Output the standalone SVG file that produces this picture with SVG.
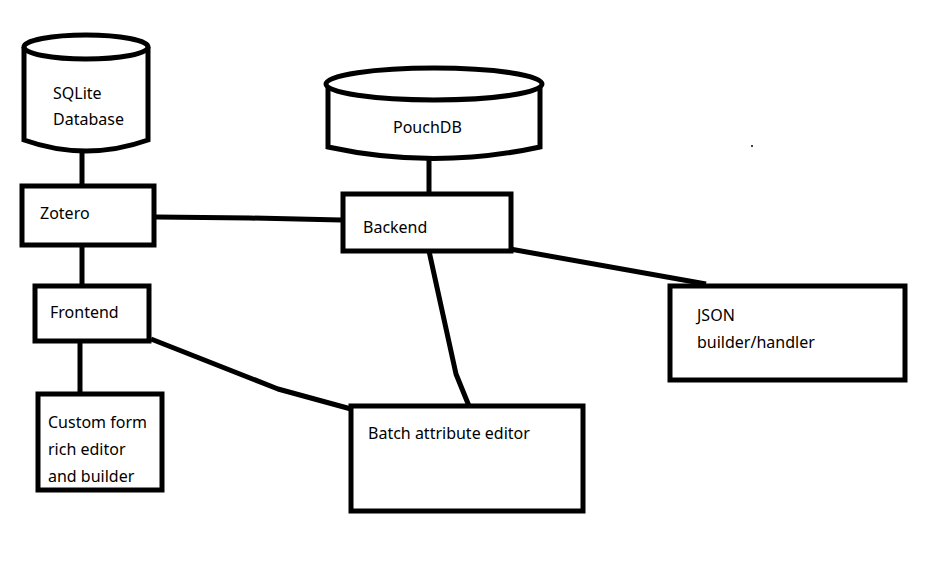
<svg xmlns="http://www.w3.org/2000/svg" width="933" height="576" viewBox="0 0 933 576">
<style>
.s{fill:#fff;stroke:#000;stroke-width:5}
.c{fill:none;stroke:#000;stroke-width:5;stroke-linejoin:round}
text{font-family:"Noto Sans","Open Sans","DejaVu Sans",sans-serif;font-size:16px;fill:#000}
</style>
<rect width="933" height="576" fill="#fff"/>
<g id="connectors">
<line class="c" x1="82" y1="150" x2="82" y2="186"/>
<polyline class="c" points="156,217 250,218 341,220"/>
<line class="c" x1="82" y1="245" x2="82" y2="286"/>
<line class="c" x1="80" y1="341" x2="80" y2="394"/>
<polyline class="c" points="151,339 278,389 351,409"/>
<line class="c" x1="429" y1="155" x2="429" y2="194"/>
<polyline class="c" points="429,251 456,374 469,406"/>
<line class="c" x1="510" y1="249" x2="706" y2="284"/>
</g>
<g id="sqlite">
<path class="s" d="M24,47 V140 Q86,162 148,140 V47"/>
<ellipse class="s" cx="86" cy="47" rx="62" ry="12"/>
<text x="53" y="99">SQLite</text>
<text x="53" y="125">Database</text>
</g>
<g id="pouchdb">
<path class="s" d="M328,84 V147 Q434,170 540,147 V84"/>
<ellipse class="s" cx="434" cy="84" rx="108" ry="16"/>
<text x="393" y="133">PouchDB</text>
</g>
<g id="zotero">
<rect class="s" x="22" y="186" width="132" height="59"/>
<text x="40" y="219">Zotero</text>
</g>
<g id="backend">
<rect class="s" x="343" y="194" width="168" height="57"/>
<text x="363" y="233">Backend</text>
</g>
<g id="frontend">
<rect class="s" x="35" y="286" width="114" height="55"/>
<text x="50" y="318">Frontend</text>
</g>
<g id="custom">
<rect class="s" x="38" y="394" width="124" height="96"/>
<text x="48" y="428">Custom form</text>
<text x="48" y="455">rich editor</text>
<text x="48" y="482">and builder</text>
</g>
<g id="batch">
<rect class="s" x="351" y="406" width="232" height="105"/>
<text x="368" y="439">Batch attribute editor</text>
</g>
<g id="json">
<rect class="s" x="670" y="286" width="235" height="94"/>
<text x="697" y="321">JSON</text>
<text x="697" y="348">builder/handler</text>
</g>
<circle cx="752" cy="146" r="1" fill="#000"/>
</svg>
